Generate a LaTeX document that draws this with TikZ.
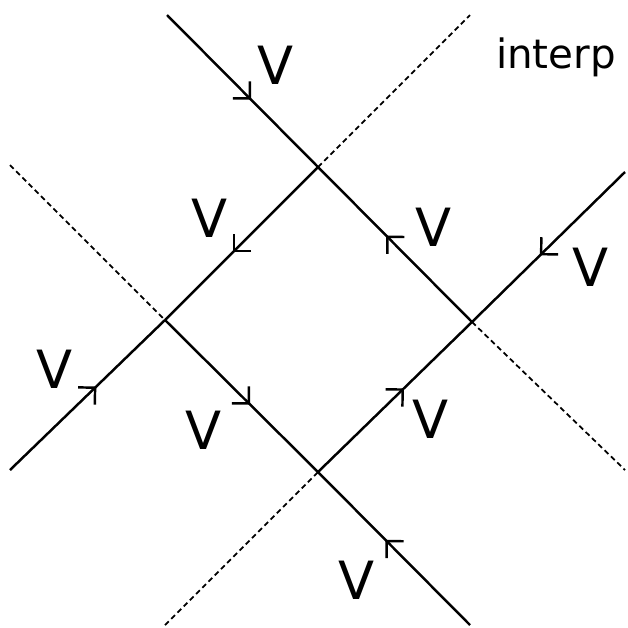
\documentclass[tikz,border=0pt]{standalone}
\usepackage{fontspec}
\setsansfont{DejaVu Sans}
\usetikzlibrary{decorations.markings}
\begin{document}
\begin{tikzpicture}[x=0.02cm, y=-0.02cm, line width=1.4pt,
  flow/.style={postaction={decorate}, decoration={markings,
    mark=at position 0.55 with {\draw[line join=miter, line cap=butt]
      (-0.24cm,0.24cm) -- (0,0) -- (-0.24cm,-0.24cm);}}},
  ghost/.style={dashed, line width=1pt, dash pattern=on 3pt off 2pt},
  vlab/.style={font=\sffamily\fontsize{30}{30}\selectfont}]
  \useasboundingbox (0,0) rectangle (628,627);
  % crossing points of the four lines
  \coordinate (top) at (318,167);
  \coordinate (lft) at (165,320);
  \coordinate (rgt) at (472,322);
  \coordinate (bot) at (318,472);
  % free ends
  \coordinate (a0) at (167,15);  \coordinate (a1) at (625,470);
  \coordinate (b0) at (10,165);  \coordinate (b1) at (470,625);
  \coordinate (c0) at (10,470);  \coordinate (c1) at (470,15);
  \coordinate (d0) at (165,625); \coordinate (d1) at (625,172);

  \draw[flow] (a0) -- (top);
  \draw[flow] (rgt) -- (top);
  \draw[ghost] (rgt) -- (a1);
  \draw[ghost] (b0) -- (lft);
  \draw[flow] (lft) -- (bot);
  \draw[flow] (b1) -- (bot);
  \draw[flow] (c0) -- (lft);
  \draw[flow] (top) -- (lft);
  \draw[ghost] (top) -- (c1);
  \draw[ghost] (d0) -- (bot);
  \draw[flow] (bot) -- (rgt);
  \draw[flow] (d1) -- (rgt);

  \node[vlab] (v1) at (276,65) {V};
  \node[vlab] (v2) at (210,218) {V};
  \node[vlab] (v3) at (434,227) {V};
  \node[vlab] (v4) at (591,267) {V};
  \node[vlab] (v5) at (55,369) {V};
  \node[vlab] (v6) at (204,430) {V};
  \node[vlab] (v7) at (431,419) {V};
  \node[vlab] (v8) at (357,580) {V};
  \node[font=\sffamily\fontsize{23}{23}\selectfont, anchor=base] (name) at (556,68) {interp};
\end{tikzpicture}
\end{document}
